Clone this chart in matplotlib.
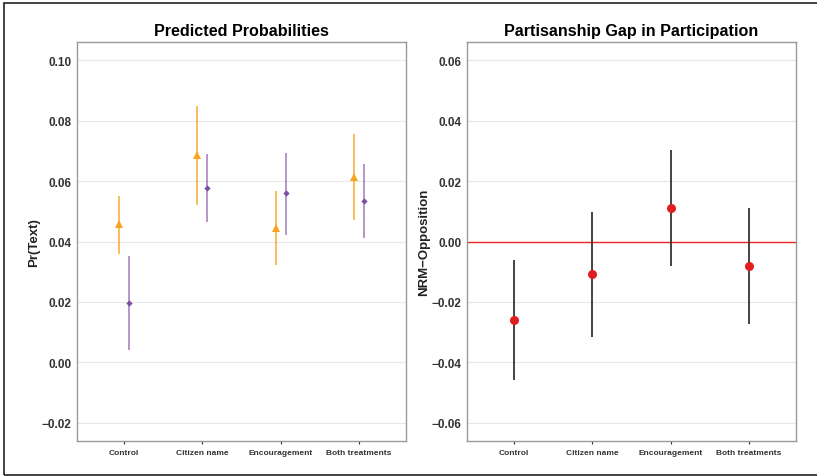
import matplotlib
matplotlib.use("Agg")
import matplotlib.pyplot as plt
from matplotlib.patches import Rectangle
import numpy as np

plt.rcParams['font.family'] = ['Liberation Sans', 'DejaVu Sans']

categories = ["Control", "Citizen name", "Encouragement", "Both treatments"]

# Left panel: predicted probabilities (two groups)
orange_est = [0.0457, 0.0686, 0.0446, 0.0615]
orange_lo = [0.0358, 0.0520, 0.0323, 0.0470]
orange_hi = [0.0551, 0.0848, 0.0567, 0.0755]

purple_est = [0.0196, 0.0576, 0.0559, 0.0533]
purple_lo = [0.0041, 0.0463, 0.0422, 0.0410]
purple_hi = [0.0352, 0.0690, 0.0694, 0.0658]

# Right panel: gap NRM - Opposition
gap_est = [-0.0260, -0.0109, 0.0112, -0.0081]
gap_lo = [-0.0457, -0.0317, -0.0081, -0.0273]
gap_hi = [-0.0062, 0.0098, 0.0304, 0.0111]

left_ticks = [-0.02, 0.00, 0.02, 0.04, 0.06, 0.08, 0.10]
right_ticks = [-0.06, -0.04, -0.02, 0.00, 0.02, 0.04, 0.06]

W, H = 817, 477
fig = plt.figure(figsize=(W / 100, H / 100), dpi=100)
fig.patch.set_facecolor('white')

# outer frame
fig.add_artist(Rectangle((4 / W, 1.5 / H), (W + 10) / W, (H - 5.5) / H,
                         transform=fig.transFigure, fill=False,
                         edgecolor='#222222', linewidth=1.2))

ax1 = fig.add_axes([77 / W, 1 - 442 / H, (406 - 77) / W, (442 - 43) / H])
ax2 = fig.add_axes([467 / W, 1 - 442 / H, (796 - 467) / W, (442 - 43) / H])

x = np.arange(1, len(categories) + 1)
dodge = 0.065

orange = '#F9A21B'
purple = '#7D4FA3'

def style(ax, ticks, ylim, ylabel, title):
    ax.set_xlim(0.4, 4.6)
    ax.set_ylim(*ylim)
    ax.set_yticks(ticks)
    ax.set_yticklabels(['%.2f' % t if t >= 0 else '\u2212%.2f' % abs(t) for t in ticks],
                       fontsize=8.5, fontweight='bold', color='#333333')
    ax.set_xticks(x)
    ax.set_xticklabels(categories, fontsize=6, fontweight='bold', color='#333333')
    ax.tick_params(axis='y', length=0, pad=4)
    ax.tick_params(axis='x', length=2.5, width=0.8, color='#333333', pad=3)
    ax.grid(axis='y', color='#E8E8E8', linewidth=0.9)
    ax.set_axisbelow(True)
    for s in ax.spines.values():
        s.set_color('#999999')
        s.set_linewidth(1.0)
    ax.set_ylabel(ylabel, fontsize=9.5, fontweight='bold', color='#222222', labelpad=1)
    ax.set_title(title, fontsize=11.6, fontweight='bold', color='black', pad=5)

# left panel
for i in range(len(categories)):
    ax1.plot([x[i] - dodge] * 2, [orange_lo[i], orange_hi[i]], color=orange,
             linewidth=1.1, alpha=0.9, solid_capstyle='butt')
    ax1.plot([x[i] + dodge] * 2, [purple_lo[i], purple_hi[i]], color=purple,
             linewidth=1.1, alpha=0.75, solid_capstyle='butt')
ax1.plot(x - dodge, orange_est, linestyle='none', marker='^', markersize=6,
         color=orange, markeredgewidth=0)
ax1.plot(x + dodge, purple_est, linestyle='none', marker='D', markersize=3.2,
         color=purple, markeredgewidth=0)
style(ax1, left_ticks, (-0.026, 0.106), 'Pr(Text)', 'Predicted Probabilities')

# right panel
ax2.axhline(0, color='#EE2222', linewidth=1.0, zorder=2)
for i in range(len(categories)):
    ax2.plot([x[i]] * 2, [gap_lo[i], gap_hi[i]], color='#111111',
             linewidth=1.1, solid_capstyle='butt', zorder=3)
ax2.plot(x, gap_est, linestyle='none', marker='o', markersize=6.5,
         color='#E01E1E', markeredgewidth=0, zorder=4)
style(ax2, right_ticks, (-0.066, 0.066), 'NRM\u2212Opposition', 'Partisanship Gap in Participation')

fig.savefig('out.png', dpi=100)
